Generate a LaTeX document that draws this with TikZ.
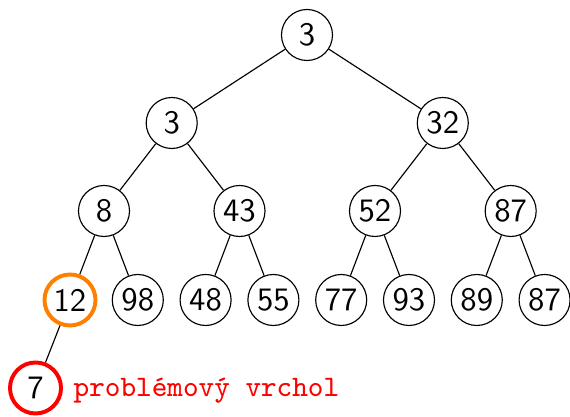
\documentclass[tikz,border=0pt]{standalone}
\usepackage{fontspec}
\begin{document}
\begin{tikzpicture}[x=0.3058pt,y=-0.3058pt,
  vertex/.style={circle,draw,line width=0.35pt,minimum size=15.6pt,inner sep=0pt,font=\sffamily\fontsize{10}{12}\selectfont},
  hilite/.style={line width=1.2pt},
  edge/.style={line width=0.35pt}]
\useasboundingbox (0,0) rectangle (570,417);
% level 1
\node[vertex] (r)   at (307,35)  {3};
% level 2
\node[vertex] (a)   at (171.7,123) {3};
\node[vertex] (b)   at (442.8,123) {32};
% level 3
\node[vertex] (aa)  at (104,211) {8};
\node[vertex] (ab)  at (239.5,211) {43};
\node[vertex] (ba)  at (375,211) {52};
\node[vertex] (bb)  at (510.7,211) {87};
% level 4
\node[vertex,hilite,draw={rgb,255:red,255;green,128;blue,0}] (aaa) at (70,300) {12};
\node[vertex] (aab) at (137.8,300) {98};
\node[vertex] (aba) at (205.6,300) {48};
\node[vertex] (abb) at (273.4,300) {55};
\node[vertex] (baa) at (341.2,300) {77};
\node[vertex] (bab) at (409,300) {93};
\node[vertex] (bba) at (476.8,300) {89};
\node[vertex] (bbb) at (544.6,300) {87};
% level 5
\node[vertex,hilite,draw=red] (x) at (35.5,388) {7};
\node[anchor=base west,inner sep=0pt,text=red,font=\ttfamily\fontsize{9.1}{11}\selectfont] (lbl) at (73,397) {problémový vrchol};
% edges
\foreach \p/\c in {r/a,r/b,a/aa,a/ab,b/ba,b/bb,aa/aaa,aa/aab,ab/aba,ab/abb,ba/baa,ba/bab,bb/bba,bb/bbb,aaa/x}
  \draw[edge] (\p) -- (\c);
\end{tikzpicture}
\end{document}
